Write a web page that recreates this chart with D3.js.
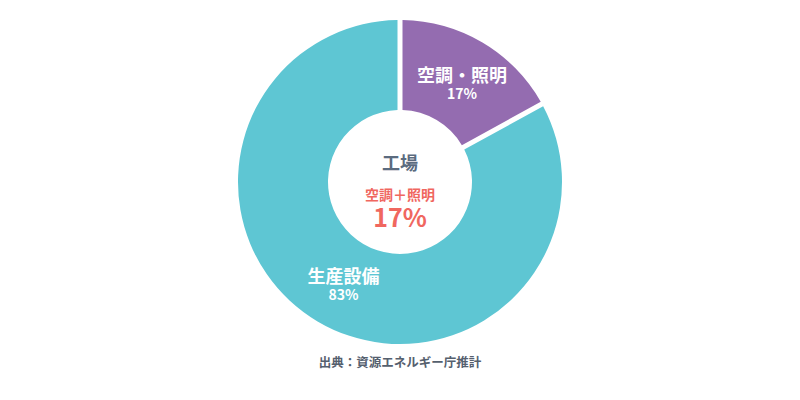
<!DOCTYPE html>
<html lang="ja">
<head>
  <meta charset="UTF-8">
  <style>
    body {
      margin: 0;
      overflow: hidden;
      background: #fff;
      font-family: "Noto Sans CJK JP", "Noto Sans", sans-serif;
    }

    svg {
      display: block;
    }

    .slice-label {
      fill: #fff;
      font-weight: bold;
      text-anchor: middle;
    }
  </style>
  <script src="https://d3js.org/d3.v7.min.js"></script>
</head>
<body>

<svg id="chart"></svg>

<script>
  // data
  const categories = ["空調・照明", "生産設備"];
  const shares = [17, 83];
  const colors = ["#946cb0", "#5ec6d3"];
  const centerTitle = "工場";
  const centerSub = "空調＋照明";
  const centerValue = "17%";
  const sourceNote = "出典：資源エネルギー庁推計";

  const width = 800, height = 400;
  const cx = 400, cy = 182;
  const outerR = 162, innerR = 72;

  const svg = d3.select("#chart")
    .attr("width", width)
    .attr("height", height);

  const g = svg.append("g")
    .attr("transform", `translate(${cx},${cy})`);

  const pie = d3.pie()
    .sort(null)
    .value(d => d.value);

  const arc = d3.arc()
    .innerRadius(innerR)
    .outerRadius(outerR)
    .padRadius(outerR)
    .padAngle(5 / outerR);

  const data = categories.map((c, i) => ({ name: c, value: shares[i], color: colors[i] }));
  const arcs = pie(data);

  g.selectAll("path")
    .data(arcs)
    .join("path")
    .attr("d", arc)
    .attr("fill", d => d.data.color);

  // labels inside slices, placed along each slice's middle angle
  const labelRadius = [122, 111];

  arcs.forEach((a, i) => {
    const r = labelRadius[i];
    const [x, y] = d3.arc().innerRadius(r).outerRadius(r).centroid(a);
    g.append("text")
      .attr("class", "slice-label")
      .attr("x", x)
      .attr("y", y + 5)
      .attr("font-size", 18)
      .text(a.data.name);
    g.append("text")
      .attr("class", "slice-label")
      .attr("x", x)
      .attr("y", y + 22)
      .attr("font-size", 14)
      .text(a.data.value + "%");
  });

  // center text
  g.append("text")
    .attr("text-anchor", "middle")
    .attr("y", -12)
    .attr("font-size", 18)
    .attr("font-weight", "bold")
    .attr("fill", "#5b6b7f")
    .text(centerTitle);

  g.append("text")
    .attr("text-anchor", "middle")
    .attr("y", 18)
    .attr("font-size", 14)
    .attr("font-weight", "bold")
    .attr("fill", "#f0675f")
    .text(centerSub);

  g.append("text")
    .attr("text-anchor", "middle")
    .attr("y", 45)
    .attr("font-size", 25)
    .attr("font-weight", "bold")
    .attr("fill", "#f0675f")
    .text(centerValue);

  svg.append("text")
    .attr("x", cx)
    .attr("y", 367)
    .attr("text-anchor", "middle")
    .attr("font-size", 12.5)
    .attr("font-weight", "bold")
    .attr("fill", "#55606e")
    .text(sourceNote);
</script>

</body>
</html>
